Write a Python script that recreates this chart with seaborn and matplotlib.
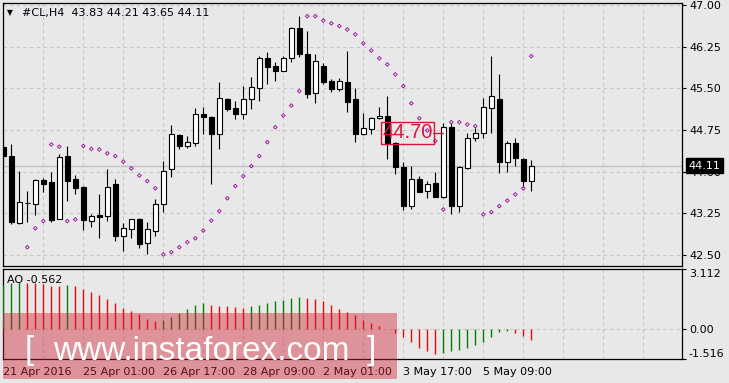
import numpy as np
import pandas as pd
import matplotlib
matplotlib.use("Agg")
import matplotlib.pyplot as plt
import matplotlib.transforms as mtransforms
from matplotlib.patches import Rectangle
import seaborn as sns

# ---------------- data ----------------
opens = [44.45, 44.28, 43.08, 43.43, 43.42, 43.85, 43.81, 43.15, 44.28, 43.87,
         43.72, 43.12, 43.22, 43.21, 43.78, 42.85, 42.96, 43.14, 42.72, 42.94,
         43.42, 44.04, 44.66, 44.47, 44.51, 45.03, 44.99, 44.67, 45.30, 45.14,
         45.03, 45.30, 45.50, 46.05, 45.90, 45.82, 46.04, 46.58, 46.11, 45.41,
         45.91, 45.64, 45.49, 45.61, 45.31, 44.67, 44.76, 44.96, 45.00, 44.52,
         44.09, 43.39, 43.86, 43.65, 43.79, 43.54, 44.80, 43.38, 44.06, 44.60,
         44.69, 45.15, 45.30, 44.17, 44.52, 44.23, 43.83]
highs = [44.48, 44.50, 44.01, 43.65, 43.87, 43.89, 43.99, 44.31, 44.46, 43.94,
         43.75, 43.24, 43.60, 44.05, 43.87, 43.08, 43.15, 43.16, 43.09, 43.51,
         44.20, 44.84, 44.67, 44.64, 45.15, 45.17, 45.00, 45.61, 45.32, 45.28,
         45.54, 45.70, 46.08, 46.15, 45.97, 46.09, 46.60, 46.80, 46.54, 46.11,
         45.95, 45.66, 45.68, 46.17, 45.50, 45.05, 44.98, 45.16, 45.36, 44.53,
         44.17, 44.10, 43.92, 43.84, 43.99, 44.88, 44.88, 44.11, 44.70, 44.78,
         45.32, 46.08, 45.76, 44.55, 44.60, 44.24, 44.21]
lows = [44.02, 43.05, 43.05, 43.09, 43.22, 43.64, 43.10, 43.14, 43.48, 43.59,
        42.95, 43.01, 42.81, 43.11, 42.76, 42.58, 42.81, 42.63, 42.51, 42.85,
        43.28, 43.91, 44.41, 44.43, 44.47, 44.68, 43.77, 44.40, 45.09, 44.95,
        44.95, 45.12, 45.28, 45.58, 45.64, 45.81, 45.98, 46.07, 45.33, 45.24,
        45.57, 45.44, 45.46, 45.08, 44.54, 44.66, 44.68, 44.95, 44.23, 43.95,
        43.31, 43.33, 43.63, 43.53, 43.54, 43.52, 43.24, 43.28, 44.04, 44.56,
        44.61, 44.69, 43.97, 44.00, 44.10, 43.72, 43.65]
closes = [44.29, 43.10, 43.45, 43.44, 43.85, 43.78, 43.13, 44.26, 43.84, 43.71,
          43.13, 43.20, 43.18, 43.72, 42.85, 42.99, 43.14, 42.70, 42.97, 43.41,
          44.02, 44.67, 44.47, 44.53, 45.03, 44.99, 44.67, 45.32, 45.13, 45.03,
          45.30, 45.52, 46.04, 45.89, 45.82, 46.04, 46.58, 46.11, 45.40, 46.00,
          45.62, 45.48, 45.63, 45.26, 44.67, 44.78, 44.96, 45.01, 44.52, 44.09,
          43.39, 43.86, 43.64, 43.77, 43.55, 44.80, 43.39, 44.08, 44.60, 44.69,
          45.16, 45.36, 44.17, 44.51, 44.24, 43.84, 44.11]
sar = [np.nan, np.nan, np.nan, 42.64, 42.98, 43.11, 44.49, 44.45, 43.11, 43.14,
       44.46, 44.41, 44.40, 44.33, 44.28, 44.18, 44.06, 43.93, 43.83, 43.70,
       42.51, 42.55, 42.64, 42.73, 42.80, 42.94, 43.12, 43.29, 43.52, 43.74,
       43.92, 44.10, 44.28, 44.53, 44.80, 45.01, 45.19, 45.45, 46.80, 46.80,
       46.72, 46.67, 46.62, 46.56, 46.47, 46.31, 46.18, 46.04, 45.93, 45.75,
       45.54, 45.23, 44.96, 44.74, 44.55, 43.32, 44.89, 44.89, 44.85, 44.82,
       43.23, 43.27, 43.38, 43.48, 43.59, 43.70, 46.08]
ao = [2.29, 2.41, 2.43, 2.38, 2.37, 2.34, 2.24, 2.23, 2.29, 2.24,
      2.08, 1.93, 1.77, 1.57, 1.36, 1.10, 0.95, 0.79, 0.52, 0.43,
      0.48, 0.64, 0.84, 1.05, 1.26, 1.36, 1.27, 1.20, 1.19, 1.15,
      1.10, 1.20, 1.26, 1.38, 1.46, 1.51, 1.62, 1.67, 1.62, 1.57,
      1.46, 1.26, 1.05, 0.91, 0.74, 0.48, 0.31, 0.17, 0.03, -0.17,
      -0.38, -0.64, -0.95, -1.14, -1.26, -1.20, -1.10, -1.09, -0.95, -0.79,
      -0.64, -0.38, -0.12, -0.11, -0.17, -0.33, -0.562]

tick_bars = [0, 10, 20, 30, 40, 50, 60]
tick_labels = ["21 Apr 2016", "25 Apr 01:00", "26 Apr 17:00", "28 Apr 09:00",
               "2 May 01:00", "3 May 17:00", "5 May 09:00"]
price_ticks = [42.50, 43.25, 44.00, 44.75, 45.50, 46.25, 47.00]
ao_ticks = [3.112, 0.0, -1.516]
symbol = "#CL,H4"
marker_bar = 55
marker_price = 44.70

# ---------------- style ----------------
sns.set_style("white")
plt.rcParams['font.family'] = ['DejaVu Sans']

BG = '#E8E8E8'
GRID = '#C6C6C6'
W, H = 729, 383

df = pd.DataFrame({'bar': np.arange(len(opens)), 'open': opens, 'high': highs,
                   'low': lows, 'close': closes, 'sar': sar, 'ao': ao})

fig = plt.figure(figsize=(W / 100, H / 100), dpi=100, facecolor=BG)


def rect(l, t, r, b):
    return [l / W, 1 - b / H, (r - l) / W, (b - t) / H]


ax = fig.add_axes(rect(3, 3, 682, 266))
ax2 = fig.add_axes(rect(3, 269, 682, 358.7))
for a in (ax, ax2):
    a.set_facecolor(BG)
    for s in a.spines.values():
        s.set_color('black')
        s.set_linewidth(0.9)
    a.set_xlim(-0.04, 84.84)
    a.set_xticks(np.arange(0, 85, 5), minor=True)
    a.set_xticks(tick_bars)
    a.grid(True, which='both', axis='x', ls=(0, (3, 3)), color=GRID, lw=0.8)
    a.set_axisbelow(True)

# ---------------- main chart ----------------
ax.set_ylim(42.302, 47.036)
ax.set_yticks(price_ticks)
ax.set_yticklabels([f"{v:.2f}" for v in price_ticks])
ax.yaxis.tick_right()
ax.tick_params(axis='y', which='both', direction='out', length=3, width=0.8,
               pad=2, labelsize=8, colors='black')
ax.tick_params(axis='x', which='both', length=0, labelbottom=False)
ax.grid(True, which='major', axis='y', ls=(0, (3, 3)), color=GRID, lw=0.8)

ax.axhline(df['close'].iloc[-1], color='#C0C0C0', lw=1.0, zorder=1)

ax.vlines(df['bar'], df['low'], df['high'], color='black', lw=0.8, zorder=3)
up = df['close'] >= df['open']
body_lo = np.minimum(df['open'], df['close'])
body_h = np.maximum((df['close'] - df['open']).abs(), 0.004)
ax.bar(df['bar'], body_h, bottom=body_lo, width=0.56,
       color=np.where(up, 'white', 'black'), edgecolor='black',
       linewidth=0.8, zorder=4)

sns.scatterplot(data=df, x='bar', y='sar', marker='D', s=3.5, color='#990099',
                linewidth=0.6, ax=ax, zorder=5, legend=False)
coll = ax.collections[-1]
coll.set_facecolor('none')
coll.set_edgecolor('#990099')
ax.set_xlabel('')
ax.set_ylabel('')

# last price box
bt = mtransforms.blended_transform_factory(ax.transAxes, ax.transData)
last = df['close'].iloc[-1]
ax.text(1.0 + 6.5 / 679, last, f"{last:.2f}", transform=bt, ha='left',
        va='center', color='white', fontsize=8, clip_on=False, zorder=10,
        bbox=dict(boxstyle='square,pad=0.22', fc='black', ec='black'))

# price label object
CR = '#DC143C'
ax.text(marker_bar - 1.32, marker_price, f"{marker_price:.2f}", ha='right',
        va='center', color=CR, fontsize=14.5, family='Liberation Sans',
        zorder=8, bbox=dict(boxstyle='square,pad=0.08', fc='none', ec=CR, lw=1))
ax.plot([marker_bar - 1.32, marker_bar], [marker_price, marker_price],
        color=CR, lw=1, zorder=8)

# ---------------- AO panel ----------------
ao_colors = ['green'] + ['green' if df['ao'][i] > df['ao'][i - 1] else 'red'
                         for i in range(1, len(df))]
ax2.vlines(df['bar'], 0, df['ao'], colors=ao_colors, lw=1.0, zorder=3)
ax2.axhline(0, ls=(0, (3, 3)), color=GRID, lw=0.8, zorder=1)
ax2.set_ylim(ao_ticks[-1], ao_ticks[0])
ax2.set_yticks(ao_ticks)
ax2.set_yticklabels([f"{v:.3f}" if v != 0 else "0.00" for v in ao_ticks])
ax2.yaxis.tick_right()
ax2.tick_params(axis='y', direction='out', length=3, width=0.8, pad=2,
                labelsize=8, colors='black')
ylbls = ax2.get_yticklabels()
ylbls[0].set_va('top')
ylbls[-1].set_va('bottom')
ax2.set_xticklabels(tick_labels)
ax2.tick_params(axis='x', which='major', direction='out', length=3, width=0.8,
                pad=3, labelsize=8, colors='black')
ax2.tick_params(axis='x', which='minor', length=0)
for lbl in ax2.get_xticklabels():
    lbl.set_ha('left')

# ---------------- header texts ----------------
fig.text(7 / W, 1 - 12.5 / H, "\u25BC", fontsize=5.5, va='center', ha='left',
         color='black')
fig.text(22 / W, 1 - 13.3 / H,
         f"{symbol}  {opens[-1]:.2f} {highs[-1]:.2f} {lows[-1]:.2f} {closes[-1]:.2f}",
         fontsize=8, va='center', ha='left', color='#000010')
fig.text(7 / W, 1 - 280 / H, f"AO {ao[-1]:.3f}", fontsize=8, va='center',
         ha='left', color='black')

# ---------------- watermark ----------------
fig.add_artist(Rectangle((3 / W, 1 - 379 / H), 394 / W, 66 / H,
                         transform=fig.transFigure, facecolor=(0.82, 0.12, 0.18),
                         alpha=0.42, edgecolor='none', zorder=5))
wm = dict(fontsize=24, color='white', family='Liberation Sans', va='baseline',
          ha='left', zorder=6)
fig.text(25 / W, 1 - 359.5 / H, "[", **wm)
fig.text(53 / W, 1 - 359.5 / H, "www.instaforex.com", **wm)
fig.text(367 / W, 1 - 359.5 / H, "]", **wm)

fig.savefig("out.png", dpi=100, facecolor=BG)
